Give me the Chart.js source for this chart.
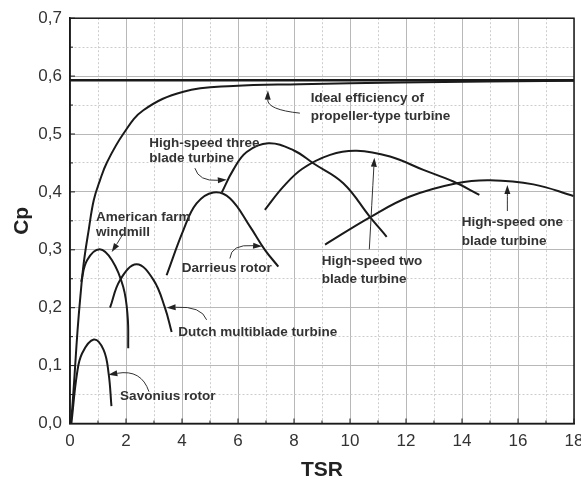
<!DOCTYPE html>
<html>
<head>
<meta charset="utf-8">
<script src="https://cdn.jsdelivr.net/npm/chart.js@4.4.1/dist/chart.umd.min.js"></script>
<style>
  html, body { margin: 0; padding: 0; background: #fff; }
</style>
</head>
<body>
<canvas id="cpChart" width="581" height="481"></canvas>
<script>
// Cp against tip speed ratio
const idealTsr = [0, 0.05, 0.11, 0.19, 0.27, 0.37, 0.49, 0.67, 0.85, 1.07, 1.31, 1.9, 2.62, 4.05, 5.83, 8.2, 11.8, 18];
const idealCp  = [0, 0.011, 0.046, 0.104, 0.161, 0.219, 0.277, 0.335, 0.386, 0.42, 0.45, 0.5, 0.541, 0.573, 0.583, 0.586, 0.589, 0.592];

const betzTsr = [0, 18];
const betzCp  = [0.593, 0.593];

const savoniusTsr = [0.05, 0.25, 0.43, 0.85, 1.2, 1.38, 1.48];
const savoniusCp  = [0.0, 0.086, 0.121, 0.145, 0.127, 0.086, 0.03];

const farmTsr = [0.4, 0.61, 1.06, 1.5, 1.9, 2.06, 2.08];
const farmCp  = [0.245, 0.282, 0.301, 0.282, 0.236, 0.184, 0.13];

const dutchTsr = [1.43, 1.79, 2.38, 2.98, 3.39, 3.63];
const dutchCp  = [0.2, 0.248, 0.275, 0.248, 0.2, 0.158];

const darrieusTsr = [3.45, 4.05, 4.52, 5.12, 5.71, 6.43, 6.96, 7.44];
const darrieusCp  = [0.256, 0.334, 0.38, 0.399, 0.389, 0.34, 0.3, 0.271];

const threeTsr = [5.42, 5.83, 6.31, 7.08, 7.98, 8.7, 9.76, 10.71, 11.31];
const threeCp  = [0.399, 0.438, 0.469, 0.484, 0.472, 0.449, 0.415, 0.357, 0.3225];

const twoTsr = [6.96, 7.62, 8.3, 9.29, 10.24, 11.43, 12.62, 13.69, 14.62];
const twoCp  = [0.369, 0.409, 0.44, 0.464, 0.471, 0.461, 0.438, 0.418, 0.395];

const oneTsr = [9.11, 10.71, 12.14, 13.81, 15.0, 16.55, 17.98];
const oneCp  = [0.309, 0.356, 0.392, 0.415, 0.42, 0.413, 0.393];

// text labels, baselines given in axis units
const notes = [
  { x: 8.6,  y: [0.556, 0.524], lines: ["Ideal efficiency of", "propeller-type turbine"] },
  { x: 2.83, y: [0.478, 0.451], lines: ["High-speed three", "blade turbine"] },
  { x: 0.93, y: [0.350, 0.324], lines: ["American farm", "windmill"] },
  { x: 3.99, y: [0.262], lines: ["Darrieus rotor"] },
  { x: 3.87, y: [0.151], lines: ["Dutch multiblade turbine"] },
  { x: 1.79, y: [0.040], lines: ["Savonius rotor"] },
  { x: 8.99, y: [0.274, 0.242], lines: ["High-speed two", "blade turbine"] },
  { x: 13.99, y: [0.341, 0.308], lines: ["High-speed one", "blade turbine"] }
];

// leader arrows: tail, bend, tip
const leaders = [
  { from: [8.21, 0.536], via: [7.05, 0.542], to: [7.07, 0.575] },
  { from: [4.46, 0.441], via: [4.6, 0.418], to: [5.6, 0.421] },
  { from: [1.9, 0.328],  via: [1.7, 0.312], to: [1.49, 0.296] },
  { from: [5.71, 0.285], via: [5.75, 0.31], to: [6.86, 0.306] },
  { from: [4.88, 0.179], via: [4.7, 0.203], to: [3.45, 0.2] },
  { from: [2.82, 0.055], via: [2.55, 0.094], to: [1.37, 0.084] },
  { from: [10.69, 0.301], via: [10.78, 0.38], to: [10.87, 0.459] },
  { from: [15.62, 0.367], via: [15.62, 0.39], to: [15.62, 0.412] }
];

const pts = (xs, ys) => xs.map((v, i) => ({ x: v, y: ys[i] }));

const curve = (xs, ys, w) => ({
  data: pts(xs, ys),
  showLine: true,
  borderColor: "#1a1a1a",
  borderWidth: w || 2,
  pointRadius: 0,
  tension: 0.4,
  fill: false
});

const isMajorX = v => Math.round(v) % 2 === 0;
const isMajorY = v => Math.round(v * 100) % 10 === 0;

const frameAndTicks = {
  id: "frameAndTicks",
  afterDatasetsDraw(chart) {
    const { ctx, chartArea: a, scales: { x, y } } = chart;
    ctx.save();
    ctx.strokeStyle = "#1a1a1a";
    ctx.lineWidth = 1;
    ctx.beginPath();
    x.ticks.forEach(t => {
      const px = x.getPixelForValue(t.value);
      const len = isMajorX(t.value) ? 5 : 3;
      ctx.moveTo(px, a.bottom);
      ctx.lineTo(px, a.bottom - len);
    });
    y.ticks.forEach(t => {
      const py = y.getPixelForValue(t.value);
      const len = isMajorY(t.value) ? 5 : 3;
      ctx.moveTo(a.left, py);
      ctx.lineTo(a.left + len, py);
    });
    ctx.stroke();
    ctx.lineWidth = 1.5;
    ctx.strokeRect(a.left, a.top, a.width, a.height);
    ctx.restore();
  }
};

const annotations = {
  id: "annotations",
  afterDatasetsDraw(chart) {
    const { ctx, scales: { x, y } } = chart;
    ctx.save();
    ctx.font = 'bold 13.5px "Liberation Sans", Arial, sans-serif';
    ctx.fillStyle = "#333";
    ctx.textBaseline = "alphabetic";
    notes.forEach(n => {
      n.lines.forEach((s, i) => {
        ctx.fillText(s, x.getPixelForValue(n.x), y.getPixelForValue(n.y[i]));
      });
    });

    ctx.strokeStyle = "#333";
    ctx.lineWidth = 1;
    leaders.forEach(l => {
      const fx = x.getPixelForValue(l.from[0]), fy = y.getPixelForValue(l.from[1]);
      const vx = x.getPixelForValue(l.via[0]), vy = y.getPixelForValue(l.via[1]);
      const tx = x.getPixelForValue(l.to[0]), ty = y.getPixelForValue(l.to[1]);
      const ang = Math.atan2(ty - vy, tx - vx);
      const len = 9, half = 3;
      const bx = tx - len * Math.cos(ang), by = ty - len * Math.sin(ang);
      ctx.beginPath();
      ctx.moveTo(fx, fy);
      ctx.quadraticCurveTo(vx, vy, bx, by);
      ctx.stroke();
      ctx.beginPath();
      ctx.moveTo(tx, ty);
      ctx.lineTo(bx + half * Math.sin(ang), by - half * Math.cos(ang));
      ctx.lineTo(bx - half * Math.sin(ang), by + half * Math.cos(ang));
      ctx.closePath();
      ctx.fillStyle = "#222";
      ctx.fill();
    });
    ctx.restore();
  }
};

new Chart(document.getElementById("cpChart"), {
  type: "scatter",
  data: {
    datasets: [
      curve(betzTsr, betzCp, 2.5),
      curve(idealTsr, idealCp),
      curve(savoniusTsr, savoniusCp),
      curve(farmTsr, farmCp),
      curve(dutchTsr, dutchCp),
      curve(darrieusTsr, darrieusCp),
      curve(threeTsr, threeCp),
      curve(twoTsr, twoCp),
      curve(oneTsr, oneCp)
    ]
  },
  options: {
    responsive: false,
    animation: false,
    devicePixelRatio: 1,
    layout: { padding: { top: 18, right: 7, left: 0, bottom: 0 } },
    plugins: { legend: { display: false }, tooltip: { enabled: false } },
    scales: {
      x: {
        type: "linear",
        min: 0,
        max: 18,
        afterFit: s => { s.height = 57.5; s.paddingRight = 0; s.paddingLeft = 0; },
        ticks: {
          stepSize: 1,
          autoSkip: false,
          maxRotation: 0,
          padding: 8,
          color: "#333",
          font: { family: '"Liberation Sans", Arial, sans-serif', size: 17 },
          callback: v => (isMajorX(v) ? String(v) : "")
        },
        grid: {
          drawTicks: false,
          color: c => (c.tick && isMajorX(c.tick.value) ? "#b8b8b8" : "#cdcdcd")
        },
        border: {
          color: "#1a1a1a",
          width: 1.5,
          dash: c => (c.tick && !isMajorX(c.tick.value) ? [2, 2] : [])
        },
        title: {
          display: true,
          text: "TSR",
          color: "#222",
          padding: 0,
          font: { family: '"Liberation Sans", Arial, sans-serif', size: 21, weight: "bold", lineHeight: 1 }
        }
      },
      y: {
        type: "linear",
        min: 0,
        max: 0.7,
        afterFit: s => { s.width = 70; },
        ticks: {
          stepSize: 0.05,
          autoSkip: false,
          padding: 8,
          color: "#333",
          font: { family: '"Liberation Sans", Arial, sans-serif', size: 17 },
          callback: v => (isMajorY(v) ? v.toFixed(1).replace(".", ",") : "")
        },
        grid: {
          drawTicks: false,
          color: c => (c.tick && isMajorY(c.tick.value) ? "#b8b8b8" : "#cdcdcd")
        },
        border: {
          color: "#1a1a1a",
          width: 1.5,
          dash: c => (c.tick && !isMajorY(c.tick.value) ? [2, 2] : [])
        },
        title: {
          display: true,
          text: "Cp",
          color: "#222",
          padding: { top: 12, bottom: 0 },
          font: { family: '"Liberation Sans", Arial, sans-serif', size: 21, weight: "bold", lineHeight: 1 }
        }
      }
    }
  },
  plugins: [frameAndTicks, annotations]
});
</script>
</body>
</html>
